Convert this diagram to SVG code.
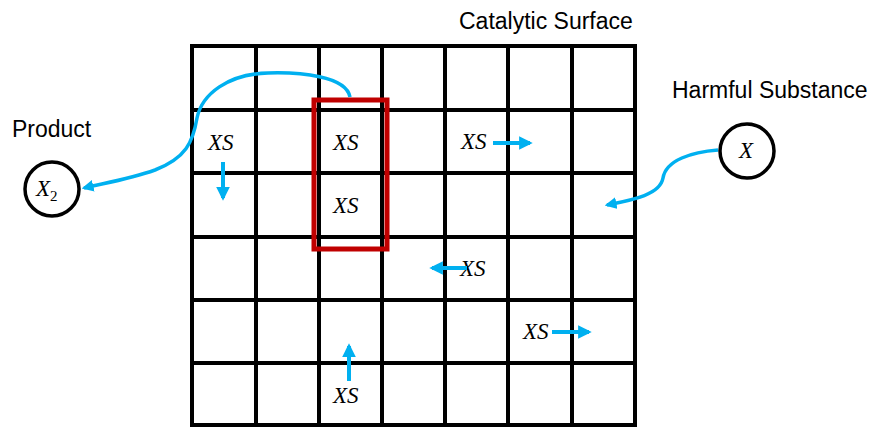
<svg xmlns="http://www.w3.org/2000/svg" width="873" height="428" viewBox="0 0 873 428">
<style>
.grid{stroke:#000;stroke-width:4;fill:none;stroke-linecap:square}
.lbl{font-family:"Liberation Sans",Arial,sans-serif;font-size:23px;fill:#000}
.m{font-family:"Liberation Serif","Times New Roman",serif;font-style:italic;font-size:23px;fill:#000}
.arr{stroke:#00B0F0;stroke-width:4;fill:none;marker-end:url(#ah)}
.curve{stroke:#00B0F0;stroke-width:3.5;fill:none;marker-end:url(#ah)}
.circ{fill:#fff;stroke:#000;stroke-width:3.5}
</style>
<defs>
<marker id="ah" viewBox="0 0 10 10" refX="8" refY="5" markerWidth="3.4" markerHeight="3.4" orient="auto" markerUnits="strokeWidth">
<path d="M0,0 L10,5 L0,10 Z" fill="#00B0F0"/>
</marker>
</defs>
<rect width="873" height="428" fill="#fff"/>
<g id="surface">
<path class="grid" d="M192,46 V425 M256,46 V425 M319,46 V425 M382,46 V425 M445,46 V425 M508,46 V425 M572,46 V425 M635,46 V425 M192,46 H635 M192,110 H635 M192,173 H635 M192,237 H635 M192,300 H635 M192,363 H635 M192,425 H635"/>
<text class="lbl" x="459" y="29">Catalytic Surface</text>
</g>
<g id="site">
<rect x="314" y="100" width="73" height="149" fill="none" stroke="#C00000" stroke-width="5"/>
</g>
<g id="xs-labels">
<text class="m" x="208" y="150">XS</text>
<text class="m" x="333" y="150">XS</text>
<text class="m" x="333" y="213">XS</text>
<text class="m" x="461" y="149">XS</text>
<text class="m" x="460" y="276">XS</text>
<text class="m" x="523" y="339">XS</text>
<text class="m" x="333" y="403">XS</text>
</g>
<g id="product">
<text class="lbl" x="12" y="137">Product</text>
<circle class="circ" cx="52" cy="189" r="27"/>
<text class="m" x="36" y="196">X<tspan font-style="normal" font-size="15" dy="5">2</tspan></text>
</g>
<g id="harmful">
<text class="lbl" x="672" y="98">Harmful Substance</text>
<circle class="circ" cx="747" cy="151" r="27"/>
<text class="m" x="739" y="158">X</text>
</g>
<g id="connectors">
<path class="curve" d="M350,97 C346,76 300,72 268,73 C228,74 202,94 197,118 C193,142 186,158 155,170 C130,179 105,183 84,188"/>
<path class="curve" d="M718,150 C692,152 666,160 663,178 C660,195 632,200 607,205"/>
<path class="arr" d="M493,143 H530"/>
<path class="arr" d="M467,268 H432"/>
<path class="arr" d="M552,332 H589"/>
<path class="arr" d="M349,381 V346"/>
<path class="arr" d="M223,162 V198"/>
</g>
</svg>
